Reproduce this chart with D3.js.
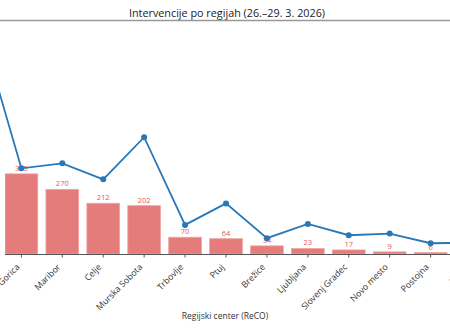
<!DOCTYPE html>
<html><head><meta charset="utf-8">
<script src="https://cdn.jsdelivr.net/npm/d3@7"></script>
<style>body{margin:0;background:#fff;overflow:hidden}svg{display:block}</style>
</head><body><svg id="c" width="450" height="330"></svg>
<script>
const categories = ["Kranj","Nova Gorica","Maribor","Celje","Murska Sobota","Trbovlje","Ptuj","Brežice","Ljubljana","Slovenj Gradec","Novo mesto","Postojna","Koper"];
const barValues = [860,335,270,212,202,70,64,34,23,17,9,6,4];
const lineValues = [99,37.4,39.6,32.6,51.0,12.7,22.1,6.9,13.1,8.2,8.9,4.7,4.9];
const title = "Intervencije po regijah (26.–29. 3. 2026)";
const xTitle = "Regijski center (ReCO)";

(function(){
const svg = d3.select("#c");
const W = 450, H = 330;
const plotTop = 25, plotBottom = 254;
const font = "'Open Sans', sans-serif";

const x = d3.scaleBand().domain(categories).range([-40, 492]).paddingInner(0.2).paddingOuter(0.1);
const y = d3.scaleLinear().domain([0, 957]).range([plotBottom, plotTop]);
const y2 = d3.scaleLinear().domain([0, 100]).range([plotBottom, plotTop]);

svg.append("text").attr("x", 227).attr("y", 17).attr("text-anchor","middle")
  .attr("font-family", font).attr("font-size", 10.8).attr("fill","#222").text(title);
svg.append("line").attr("x1",0).attr("x2",W).attr("y1",20.5).attr("y2",20.5)
  .attr("stroke","#999").attr("stroke-width",1.3);

const defs = svg.append("defs");
defs.append("clipPath").attr("id","clip").append("rect").attr("x",5).attr("y",0).attr("width",1000).attr("height",H);

const plot = svg.append("g").attr("clip-path","url(#clip)");
plot.selectAll("rect.bar").data(categories).join("rect").attr("class","bar")
  .attr("x", d => x(d)).attr("width", x.bandwidth())
  .attr("y", (d,i) => y(barValues[i])).attr("height", (d,i) => plotBottom - y(barValues[i]))
  .attr("fill","#e57c7c").attr("stroke","#f0a3a3").attr("stroke-width",0.8);

svg.selectAll("text.val").data(categories).join("text").attr("class","val")
  .attr("x", d => x(d) + x.bandwidth()/2).attr("y", (d,i) => y(barValues[i]) - 3)
  .attr("text-anchor","middle").attr("font-family", font).attr("font-size", 7.5)
  .attr("fill","#e05a5a").text((d,i) => barValues[i]);

const ax = svg.append("g").attr("transform", `translate(0,${plotBottom})`)
  .call(d3.axisBottom(x).tickSize(3.5).tickSizeOuter(0));
ax.select(".domain").attr("stroke","#555").attr("clip-path","url(#clip)");
ax.selectAll(".tick line").attr("stroke","#555");
ax.selectAll(".tick text").attr("font-family", font).attr("font-size", 8.7).attr("fill","#333")
  .attr("text-anchor","end").attr("x",0).attr("y",0).attr("dx",-10.5).attr("dy",8.8)
  .attr("transform","rotate(-45)");

svg.append("text").attr("x", 225).attr("y", 319).attr("text-anchor","middle")
  .attr("font-family", font).attr("font-size", 8.5).attr("fill","#333").text(xTitle);

const line = d3.line().x(d => x(d) + x.bandwidth()/2).y((d,i) => y2(lineValues[i]));
svg.append("path").datum(categories).attr("d", line).attr("fill","none")
  .attr("stroke","#2878b8").attr("stroke-width",1.8);
svg.selectAll("circle.pt").data(categories).join("circle").attr("class","pt")
  .attr("cx", d => x(d) + x.bandwidth()/2).attr("cy", (d,i) => y2(lineValues[i]))
  .attr("r", 3).attr("fill","#2878b8");
})();
</script></body></html>
